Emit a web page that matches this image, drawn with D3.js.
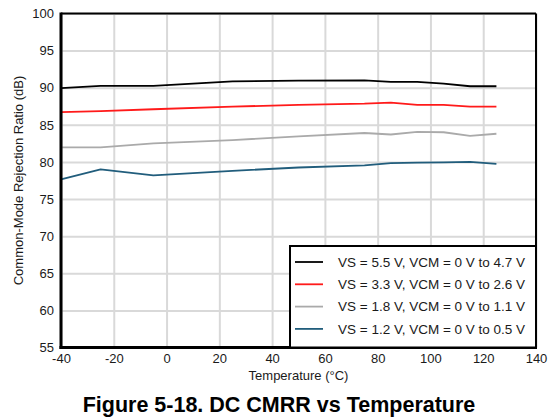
<!DOCTYPE html>
<html>
<head>
<meta charset="utf-8">
<script src="https://cdn.jsdelivr.net/npm/d3@7/dist/d3.min.js"></script>
<style>
  html, body { margin: 0; padding: 0; background: #fff; }
  svg { display: block; }
  text { font-family: "Liberation Sans", Arial, sans-serif; }
</style>
</head>
<body>
<svg id="chart" width="555" height="420"></svg>
<script>
// ---- data ----
const temperatures = [-40, -25, -5, 25, 50, 75, 85, 95, 105, 115, 125];
const vs55 = [89.95, 90.25, 90.25, 90.85, 90.95, 91.0, 90.8, 90.8, 90.55, 90.2, 90.2];
const vs33 = [86.7, 86.85, 87.1, 87.45, 87.7, 87.85, 88.0, 87.7, 87.7, 87.45, 87.45];
const vs18 = [81.95, 81.95, 82.5, 82.95, 83.45, 83.9, 83.7, 84.05, 84.0, 83.5, 83.8];
const vs12 = [77.65, 79.0, 78.2, 78.8, 79.25, 79.55, 79.85, 79.9, 79.95, 80.0, 79.75];
const seriesNames = [
  "VS = 5.5 V, VCM = 0 V to 4.7 V",
  "VS = 3.3 V, VCM = 0 V to 2.6 V",
  "VS = 1.8 V, VCM = 0 V to 1.1 V",
  "VS = 1.2 V, VCM = 0 V to 0.5 V"
];
const seriesColors = ["#000000", "#ff1a1a", "#aaaaaa", "#215d7c"];
const xTicks = [-40, -20, 0, 20, 40, 60, 80, 100, 120, 140];
const yTicks = [55, 60, 65, 70, 75, 80, 85, 90, 95, 100];
const xLabel = "Temperature (°C)";
const yLabel = "Common-Mode Rejection Ratio (dB)";
const title = "Figure 5-18. DC CMRR vs Temperature";

// ---- layout ----
const svg = d3.select("#chart");
const L = 61, R = 536, T = 13.5, B = 347.5;
const x = d3.scaleLinear().domain([-40, 140]).range([L, R]);
const y = d3.scaleLinear().domain([55, 100]).range([B, T]);
const fmt = d => String(d);

// gridlines
const grid = svg.append("g");
grid.append("g")
  .attr("transform", `translate(0,${B})`)
  .call(d3.axisBottom(x).tickValues(xTicks).tickSize(-(B - T)).tickFormat(""))
  .call(g => g.select(".domain").remove())
  .call(g => g.selectAll("line").attr("stroke", "#d9d9d9").attr("stroke-width", 2));
grid.append("g")
  .attr("transform", `translate(${L},0)`)
  .call(d3.axisLeft(y).tickValues(yTicks).tickSize(-(R - L)).tickFormat(""))
  .call(g => g.select(".domain").remove())
  .call(g => g.selectAll("line").attr("stroke", "#d9d9d9").attr("stroke-width", 2));

// lines
const allSeries = [vs55, vs33, vs18, vs12];
const line = d3.line().x((d, i) => x(temperatures[i])).y(d => y(d));
allSeries.forEach((vals, k) => {
  svg.append("path")
    .datum(vals)
    .attr("fill", "none")
    .attr("stroke", seriesColors[k])
    .attr("stroke-width", 1.8)
    .attr("stroke-linejoin", "round")
    .attr("d", line);
});

// axes labels
svg.append("g")
  .attr("transform", `translate(${L},0)`)
  .call(d3.axisLeft(y).tickValues(yTicks).tickSize(0).tickPadding(7).tickFormat(fmt))
  .call(g => g.select(".domain").remove())
  .call(g => g.selectAll("text").attr("font-size", 13).attr("fill", "#1a1a1a")
    .attr("font-family", "'Liberation Sans', Arial, sans-serif"));
svg.append("g")
  .attr("transform", `translate(0,${B})`)
  .call(d3.axisBottom(x).tickValues(xTicks).tickSize(0).tickPadding(6).tickFormat(fmt))
  .call(g => g.select(".domain").remove())
  .call(g => g.selectAll("text").attr("font-size", 13).attr("fill", "#1a1a1a")
    .attr("font-family", "'Liberation Sans', Arial, sans-serif"));

// frame
svg.append("line").attr("x1", L).attr("x2", R).attr("y1", T).attr("y2", T).attr("stroke", "#000").attr("stroke-width", 2);
svg.append("line").attr("x1", R).attr("x2", R).attr("y1", T).attr("y2", B).attr("stroke", "#000").attr("stroke-width", 2);
svg.append("line").attr("x1", L).attr("x2", L).attr("y1", T - 1).attr("y2", B + 1.5).attr("stroke", "#000").attr("stroke-width", 3);
svg.append("line").attr("x1", L - 1.5).attr("x2", R + 1).attr("y1", B).attr("y2", B).attr("stroke", "#000").attr("stroke-width", 3);

// legend
const lg = svg.append("g");
const lgX = 290, lgY = 246;
lg.append("rect").attr("x", lgX).attr("y", lgY).attr("width", R - lgX).attr("height", B - lgY)
  .attr("fill", "#fff").attr("stroke", "#000").attr("stroke-width", 2);
seriesNames.forEach((name, k) => {
  const yy = 262 + k * 22.3;
  lg.append("line").attr("x1", 295).attr("x2", 323).attr("y1", yy).attr("y2", yy)
    .attr("stroke", seriesColors[k]).attr("stroke-width", 1.8);
  lg.append("text").attr("x", 338).attr("y", yy).attr("dy", "0.35em")
    .attr("font-size", 13.5).attr("fill", "#1a1a1a").text(name);
});

// axis titles
svg.append("text").attr("x", (L + R) / 2).attr("y", 380).attr("text-anchor", "middle")
  .attr("font-size", 13).attr("fill", "#1a1a1a").text(xLabel);
svg.append("text").attr("transform", `translate(23,${(T + B) / 2}) rotate(-90)`)
  .attr("text-anchor", "middle").attr("font-size", 13).attr("fill", "#1a1a1a").text(yLabel);

// figure title
svg.append("text").attr("x", 279).attr("y", 412).attr("text-anchor", "middle")
  .attr("font-size", 21.5).attr("font-weight", "bold").attr("fill", "#000").text(title);
</script>
</body>
</html>
